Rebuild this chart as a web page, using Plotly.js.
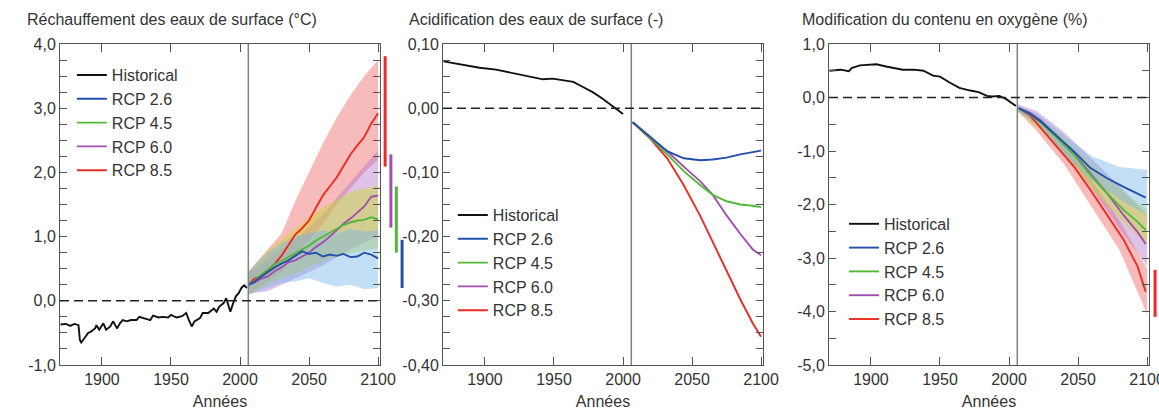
<!DOCTYPE html>
<html><head><meta charset="utf-8">
<script src="https://cdn.plot.ly/plotly-3.0.1.min.js"></script>
<style>html,body{margin:0;padding:0;background:#fff}</style>
</head><body><div id="chart" style="width:1159px;height:410px"></div>
<script>
// ---------- DATA ----------
const seriesNames = ['Historical', 'RCP 2.6', 'RCP 4.5', 'RCP 6.0', 'RCP 8.5'];
const panelTitles = ['Réchauffement des eaux de surface (°C)', 'Acidification des eaux de surface (-)', 'Modification du contenu en oxygène (%)'];
const xTitle = 'Années';
const xTickVals = [1900, 1950, 2000, 2050, 2100];
const xTickText = ['1900', '1950', '2000', '2050', '2100'];
const splitYear = 2006;

// Panel 1: sea surface warming
const sstTickVals = [-1, 0, 1, 2, 3, 4];
const sstTickText = ['-1,0', '0,0', '1,0', '2,0', '3,0', '4,0'];
const sstHistYears = [1870,1874,1877,1880,1883,1884,1885,1888,1890,1892,1895,1896,1898,1901,1903,1906,1908,1911,1913,1915,1918,1921,1925,1927,1931,1935,1937,1941,1944,1948,1950,1954,1958,1961,1963,1965,1967,1971,1973,1977,1981,1983,1985,1988,1990,1992,1993,1995,1997,1999,2001,2003,2005];
const sstHist = [-0.37,-0.36,-0.39,-0.36,-0.38,-0.61,-0.65,-0.56,-0.50,-0.48,-0.43,-0.38,-0.45,-0.35,-0.45,-0.40,-0.32,-0.43,-0.35,-0.30,-0.32,-0.30,-0.30,-0.25,-0.27,-0.30,-0.23,-0.26,-0.25,-0.26,-0.22,-0.26,-0.24,-0.19,-0.30,-0.40,-0.32,-0.27,-0.19,-0.19,-0.12,-0.17,-0.09,-0.04,0.04,-0.09,-0.17,-0.04,0.07,0.12,0.20,0.24,0.20];
const sstRcpYears = [2006,2010,2015,2020,2025,2030,2035,2040,2045,2050,2055,2060,2065,2070,2075,2080,2085,2090,2095,2100];
const sstRcp26 = [0.25,0.29,0.37,0.45,0.52,0.58,0.63,0.70,0.77,0.73,0.75,0.69,0.72,0.70,0.73,0.68,0.69,0.75,0.72,0.66];
const sstRcp45 = [0.25,0.30,0.40,0.48,0.57,0.62,0.68,0.73,0.80,0.86,0.94,1.00,1.06,1.12,1.18,1.22,1.25,1.26,1.30,1.27];
const sstRcp60 = [0.25,0.28,0.34,0.38,0.46,0.52,0.60,0.63,0.69,0.75,0.84,0.91,1.00,1.10,1.20,1.28,1.37,1.47,1.62,1.64];
const sstRcp85 = [0.24,0.34,0.38,0.47,0.57,0.70,0.86,1.03,1.13,1.25,1.45,1.64,1.78,1.92,2.10,2.28,2.42,2.55,2.76,2.92];
const sstBandYears = [2006,2010,2020,2030,2040,2050,2060,2070,2080,2090,2100];
const sstRcp26Low  = [0.10,0.12,0.20,0.28,0.30,0.35,0.28,0.22,0.25,0.18,0.20];
const sstRcp26High = [0.45,0.55,0.75,0.90,1.00,1.05,1.10,1.05,1.12,1.08,1.10];
const sstRcp45Low  = [0.10,0.15,0.25,0.35,0.42,0.52,0.62,0.70,0.75,0.78,0.82];
const sstRcp45High = [0.45,0.55,0.78,0.95,1.12,1.30,1.45,1.58,1.70,1.75,1.80];
const sstRcp60Low  = [0.10,0.12,0.15,0.25,0.35,0.45,0.55,0.68,0.80,0.90,1.00];
const sstRcp60High = [0.45,0.50,0.65,0.80,0.95,1.15,1.35,1.60,1.85,2.10,2.35];
const sstRcp85Low  = [0.10,0.15,0.30,0.45,0.70,0.95,1.20,1.50,1.75,2.00,2.20];
const sstRcp85High = [0.45,0.55,0.80,1.05,1.55,2.00,2.45,2.85,3.20,3.50,3.75];
// 2081-2100 ranges shown as bars right of the panel (order: 2.6, 4.5, 6.0, 8.5)
const sstBarLow  = [0.20, 0.75, 1.14, 2.09];
const sstBarHigh = [0.95, 1.78, 2.28, 3.81];

// Panel 2: surface acidification
const phTickVals = [-0.4, -0.3, -0.2, -0.1, 0, 0.1];
const phTickText = ['-0,40', '-0,30', '-0,20', '-0,10', '0,00', '0,10'];
const phHistYears = [1870,1884,1890,1896,1908,1920,1932,1942,1949,1956,1964,1971,1978,1985,1993,2000];
const phHist = [0.073,0.067,0.065,0.063,0.060,0.055,0.050,0.045,0.046,0.044,0.041,0.033,0.025,0.015,0.002,-0.009];
const phRcpYears = [2007,2020,2032,2044,2056,2065,2075,2085,2094,2100];
const phRcp26 = [-0.022,-0.046,-0.067,-0.078,-0.081,-0.080,-0.077,-0.072,-0.069,-0.066];
const phRcp45 = [-0.022,-0.047,-0.072,-0.098,-0.120,-0.135,-0.145,-0.150,-0.152,-0.154];
const phRcp60 = [-0.022,-0.045,-0.067,-0.091,-0.114,-0.135,-0.167,-0.196,-0.220,-0.229];
const phRcp85 = [-0.022,-0.048,-0.078,-0.120,-0.168,-0.208,-0.252,-0.298,-0.335,-0.356];

// Panel 3: oxygen content change
const o2TickVals = [-5, -4, -3, -2, -1, 0, 1];
const o2TickText = ['-5,0', '-4,0', '-3,0', '-2,0', '-1,0', '0,0', '1,0'];
const o2HistYears = [1870,1878,1884,1886,1892,1900,1904,1911,1916,1923,1931,1938,1945,1950,1957,1964,1972,1978,1984,1988,1993,1998,2005];
const o2Hist = [0.50,0.52,0.49,0.55,0.60,0.61,0.62,0.58,0.55,0.52,0.52,0.50,0.41,0.39,0.28,0.18,0.13,0.10,0.03,0.02,0.03,-0.03,-0.16];
const o2RcpYears = [2007,2015,2023,2035,2047,2059,2071,2083,2093,2099];
const o2Rcp26 = [-0.20,-0.30,-0.45,-0.73,-1.01,-1.32,-1.51,-1.67,-1.79,-1.87];
const o2Rcp45 = [-0.20,-0.31,-0.47,-0.76,-1.07,-1.45,-1.79,-2.10,-2.32,-2.48];
const o2Rcp60 = [-0.20,-0.28,-0.43,-0.73,-1.05,-1.42,-1.79,-2.20,-2.51,-2.74];
const o2Rcp85 = [-0.20,-0.33,-0.57,-0.92,-1.29,-1.73,-2.20,-2.66,-3.15,-3.63];
const o2BandYears = [2006,2020,2040,2060,2080,2100];
const o2Rcp26Low  = [-0.25,-0.50,-1.05,-1.55,-1.90,-2.20];
const o2Rcp26High = [-0.15,-0.30,-0.70,-1.10,-1.30,-1.35];
const o2Rcp45Low  = [-0.25,-0.55,-1.10,-1.70,-2.25,-2.75];
const o2Rcp45High = [-0.15,-0.35,-0.75,-1.25,-1.70,-2.10];
const o2Rcp60Low  = [-0.25,-0.50,-1.05,-1.70,-2.45,-3.15];
const o2Rcp60High = [-0.12,-0.25,-0.65,-1.15,-1.65,-2.20];
const o2Rcp85Low  = [-0.25,-0.62,-1.25,-2.05,-2.85,-4.05];
const o2Rcp85High = [-0.15,-0.40,-0.90,-1.55,-2.30,-3.20];
const o2BarLow  = [-4.10];
const o2BarHigh = [-3.22];

// ---------- STYLE ----------
const FONT = 'Liberation Sans, Arial, Helvetica, sans-serif';
const lineColors = ['#111111', '#2350a8', '#52b83a', '#a24fb0', '#ee2a24'];
const bandColors = [null, 'rgba(120,185,235,0.45)', 'rgba(200,220,40,0.45)', 'rgba(185,120,205,0.45)', 'rgba(240,120,120,0.5)'];
const domains = [[0.05177, 0.32787], [0.38223, 0.65833], [0.71527, 0.99137]];
const xRange = [1869.6, 2101.4];

const traces = [];
function band(years, low, high, idx, p) {
  traces.push({x: years.concat(years.slice().reverse()), y: high.concat(low.slice().reverse()),
    xaxis: 'x' + (p === 1 ? '' : p), yaxis: 'y' + (p === 1 ? '' : p),
    mode: 'lines', fill: 'toself', fillcolor: bandColors[idx], line: {width: 0},
    showlegend: false, hoverinfo: 'skip'});
}
function line(years, vals, idx, p) {
  traces.push({x: years, y: vals, name: seriesNames[idx], mode: 'lines',
    xaxis: 'x' + (p === 1 ? '' : p), yaxis: 'y' + (p === 1 ? '' : p),
    line: {color: lineColors[idx], width: 1.9}, legend: p === 1 ? 'legend' : 'legend' + p,
    legendrank: idx + 1});
}
// panel 1
band(sstBandYears, sstRcp85Low, sstRcp85High, 4, 1);
band(sstBandYears, sstRcp60Low, sstRcp60High, 3, 1);
band(sstBandYears, sstRcp45Low, sstRcp45High, 2, 1);
band(sstBandYears, sstRcp26Low, sstRcp26High, 1, 1);
line(sstHistYears, sstHist, 0, 1);
line(sstRcpYears, sstRcp85, 4, 1);
line(sstRcpYears, sstRcp60, 3, 1);
line(sstRcpYears, sstRcp45, 2, 1);
line(sstRcpYears, sstRcp26, 1, 1);
// panel 2
line(phHistYears, phHist, 0, 2);
line(phRcpYears, phRcp85, 4, 2);
line(phRcpYears, phRcp60, 3, 2);
line(phRcpYears, phRcp45, 2, 2);
line(phRcpYears, phRcp26, 1, 2);
// panel 3
band(o2BandYears, o2Rcp85Low, o2Rcp85High, 4, 3);
band(o2BandYears, o2Rcp60Low, o2Rcp60High, 3, 3);
band(o2BandYears, o2Rcp45Low, o2Rcp45High, 2, 3);
band(o2BandYears, o2Rcp26Low, o2Rcp26High, 1, 3);
line(o2HistYears, o2Hist, 0, 3);
line(o2RcpYears, o2Rcp85, 4, 3);
line(o2RcpYears, o2Rcp60, 3, 3);
line(o2RcpYears, o2Rcp45, 2, 3);
line(o2RcpYears, o2Rcp26, 1, 3);

const AX = '#555555';
function xaxis(p) {
  return {domain: domains[p - 1], range: xRange, anchor: 'y' + (p === 1 ? '' : p),
    tickmode: 'array', tickvals: xTickVals, ticktext: xTickText,
    ticks: 'inside', ticklen: 8, tickwidth: 1, tickcolor: AX,
    showline: true, linecolor: AX, linewidth: 1, mirror: 'ticks',
    showgrid: false, zeroline: false, ticklabeloverflow: 'allow',
    tickfont: {family: FONT, size: 16, color: '#333'},
    title: {text: xTitle, font: {family: FONT, size: 16, color: '#333'}, standoff: 8}};
}
function yaxis(p, range, vals, text, minorStep) {
  return {domain: [0, 1], range: range, anchor: 'x' + (p === 1 ? '' : p),
    tickmode: 'array', tickvals: vals, ticktext: text,
    ticks: 'inside', ticklen: 7, tickwidth: 1, tickcolor: AX,
    minor: {tickmode: 'linear', tick0: 0, dtick: minorStep, ticks: 'inside', ticklen: 7, tickcolor: AX, showgrid: false},
    showline: true, linecolor: AX, linewidth: 1, mirror: 'ticks',
    showgrid: false, zeroline: false,
    tickfont: {family: FONT, size: 16, color: '#333'}};
}

const shapes = [];
const annotations = [];
for (let p = 1; p <= 3; p++) {
  const s = p === 1 ? '' : String(p);
  shapes.push({type: 'line', xref: 'x' + s, yref: 'y' + s + ' domain', x0: splitYear, x1: splitYear, y0: 0, y1: 1,
    line: {color: '#808080', width: 1.5}});
  shapes.push({type: 'line', xref: 'x' + s + ' domain', yref: 'y' + s, x0: 0, x1: 1, y0: 0, y1: 0,
    line: {color: '#222', width: 1.6, dash: '9px,5px'}});
  annotations.push({text: panelTitles[p - 1], xref: 'paper', yref: 'paper', x: [25, 407, 800][p - 1] / 1159,
    y: 1.075, xanchor: 'left', yanchor: 'middle', showarrow: false,
    font: {family: FONT, size: 16, color: '#333'}});
}
// range bars (panel 1: 2.6, 4.5, 6.0, 8.5 ; panel 3: 8.5)
const sstBarX = [1.069, 1.051, 1.034, 1.016];
const sstBarColors = [lineColors[1], lineColors[2], lineColors[3], lineColors[4]];
for (let i = 0; i < sstBarLow.length; i++) {
  shapes.push({type: 'line', xref: 'x domain', yref: 'y', x0: sstBarX[i], x1: sstBarX[i],
    y0: sstBarLow[i], y1: sstBarHigh[i], line: {color: sstBarColors[i], width: 3}});
}
shapes.push({type: 'line', xref: 'x3 domain', yref: 'y3', x0: 1.019, x1: 1.019,
  y0: o2BarLow[0], y1: o2BarHigh[0], line: {color: lineColors[4], width: 3}});

const legendStyle = (x, y) => ({x: x, y: y, xanchor: 'left', yanchor: 'top', bgcolor: 'rgba(0,0,0,0)',
  font: {family: FONT, size: 16, color: '#333'}, traceorder: 'normal'});

const layout = {
  width: 1159, height: 410,
  margin: {l: 0, r: 0, t: 44, b: 45},
  paper_bgcolor: '#fff', plot_bgcolor: '#fff',
  showlegend: true,
  xaxis: xaxis(1), xaxis2: xaxis(2), xaxis3: xaxis(3),
  yaxis: yaxis(1, [-1, 4], sstTickVals, sstTickText, 0.25),
  yaxis2: yaxis(2, [-0.4, 0.1], phTickVals, phTickText, 0.025),
  yaxis3: yaxis(3, [-5, 1], o2TickVals, o2TickText, 0.5),
  legend: legendStyle(0.0620, 0.956),
  legend2: legendStyle(0.3907, 0.520),
  legend3: legendStyle(0.7282, 0.4925),
  shapes: shapes, annotations: annotations
};
Plotly.newPlot('chart', traces, layout, {displayModeBar: false, staticPlot: true});
</script></body></html>
